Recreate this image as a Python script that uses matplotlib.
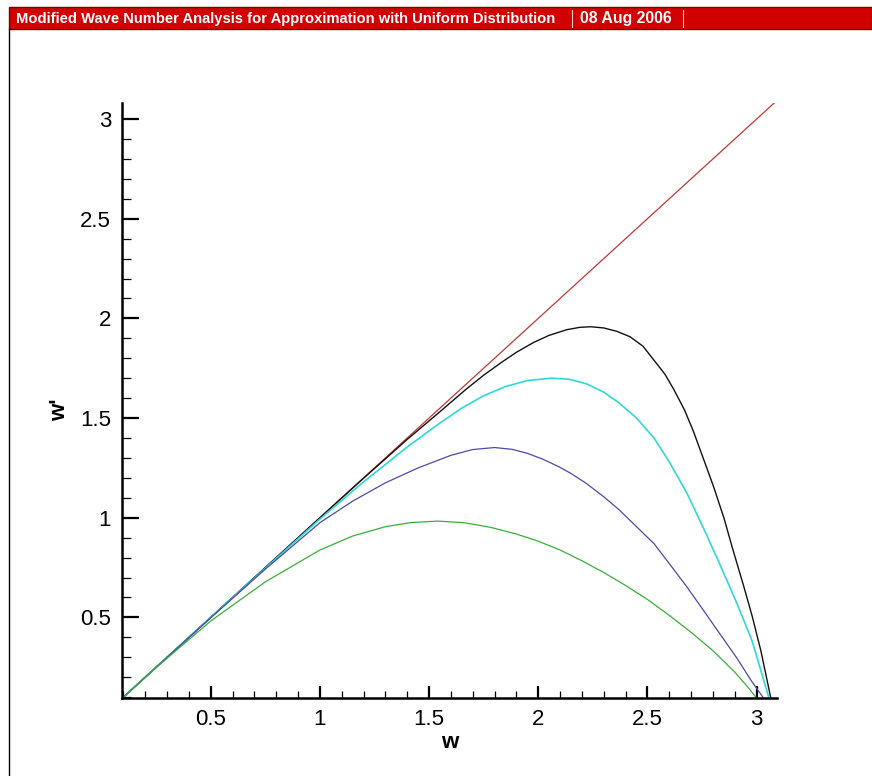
import matplotlib
matplotlib.use("Agg")
import matplotlib.pyplot as plt
from matplotlib.patches import Rectangle
from matplotlib.lines import Line2D
from matplotlib.ticker import MultipleLocator

# values
w_exact = [0.0, 3.1]
wp_exact = [0.0, 3.1]

w_green = [0.0, 0.25, 0.5, 0.75, 1.0, 1.15, 1.3, 1.42, 1.54, 1.66, 1.78, 1.9,
           2.0, 2.1, 2.2, 2.3, 2.4, 2.5, 2.6, 2.7, 2.8, 2.9, 2.96, 3.0]
wp_green = [0.0, 0.248, 0.482, 0.678, 0.838, 0.908, 0.955, 0.976, 0.983, 0.975,
            0.952, 0.918, 0.882, 0.838, 0.784, 0.725, 0.66, 0.59, 0.51, 0.425,
            0.333, 0.225, 0.15, 0.095]

w_blue = [0.0, 0.5, 0.75, 1.0, 1.15, 1.3, 1.45, 1.6, 1.70, 1.80, 1.88, 1.95,
          2.02, 2.09, 2.15, 2.22, 2.30, 2.37, 2.45, 2.53, 2.60, 2.68, 2.76,
          2.83, 2.91, 2.98, 3.035]
wp_blue = [0.0, 0.498, 0.742, 0.975, 1.083, 1.175, 1.25, 1.313, 1.342, 1.352,
           1.343, 1.323, 1.294, 1.258, 1.222, 1.172, 1.105, 1.04, 0.955, 0.87,
           0.77, 0.654, 0.53, 0.42, 0.295, 0.175, 0.09]

w_cyan = [0.0, 0.5, 1.0, 1.2, 1.4, 1.55, 1.65, 1.75, 1.85, 1.95, 2.06, 2.14,
          2.22, 2.30, 2.37, 2.45, 2.53, 2.60, 2.68, 2.76, 2.83, 2.91, 2.98,
          3.058]
wp_cyan = [0.0, 0.5, 0.993, 1.18, 1.355, 1.475, 1.55, 1.612, 1.658, 1.688,
           1.70, 1.695, 1.672, 1.63, 1.576, 1.50, 1.40, 1.28, 1.125, 0.94,
           0.77, 0.57, 0.38, 0.09]

w_black = [0.0, 0.5, 1.0, 1.2, 1.4, 1.55, 1.67, 1.75, 1.83, 1.9, 1.98, 2.05,
           2.13, 2.19, 2.24, 2.30, 2.36, 2.42, 2.48, 2.53, 2.58, 2.62, 2.67,
           2.71, 2.76, 2.80, 2.85, 2.89, 2.94, 2.98, 3.02, 3.066]
wp_black = [0.0, 0.5, 1.0, 1.198, 1.393, 1.532, 1.645, 1.715, 1.778, 1.83,
            1.88, 1.915, 1.943, 1.955, 1.958, 1.952, 1.935, 1.908, 1.86, 1.79,
            1.72, 1.645, 1.54, 1.435, 1.285, 1.165, 1.0, 0.845, 0.66, 0.505,
            0.33, 0.09]

x_major = [0.5, 1, 1.5, 2, 2.5, 3]
y_major = [0.5, 1, 1.5, 2, 2.5, 3]

title = "Modified Wave Number Analysis for Approximation with Uniform Distribution"
date = "08 Aug 2006"

W, H = 872, 776
fig = plt.figure(figsize=(W / 100, H / 100), dpi=100)
fig.patch.set_facecolor("white")

# title bar
fig.patches.append(Rectangle((9 / W, 1 - 29 / H), 1 - 9 / W, 22 / H,
                             transform=fig.transFigure, facecolor="#d20000",
                             edgecolor="#7a0000", linewidth=1.0))
bar_font = ["Liberation Sans", "DejaVu Sans"]
t_title = fig.text(16 / W, 1 - 18.5 / H, title, color="white",
                   fontweight="bold", fontsize=11, family=bar_font,
                   va="center", ha="left")
t_date = fig.text(580 / W, 1 - 18.5 / H, date, color="white",
                  fontweight="bold", fontsize=11, family=bar_font,
                  va="center", ha="left")
# squeeze the bar texts to the widths they take in the reference
fig.canvas.draw()
for txt, target in ((t_title, 541), (t_date, 92)):
    width = txt.get_window_extent().width
    txt.set_fontsize(11 * target / width)

for xs in (572, 683):
    fig.lines.append(Line2D([xs / W, xs / W], [1 - 27 / H, 1 - 10 / H],
                            transform=fig.transFigure, color="#ffd0d0", lw=0.8))
# frame line on the left
fig.lines.append(Line2D([9 / W, 9 / W], [0, 1 - 29 / H],
                        transform=fig.transFigure, color="black", lw=1.0))

ax = fig.add_axes([122.3 / W, (H - 697.7) / H, 654.4 / W, 595 / H])

ax.plot(w_exact, wp_exact, color="#c03838", lw=0.9)
ax.plot(w_black, wp_black, color="#111111", lw=1.0)
ax.plot(w_cyan, wp_cyan, color="#30d8d8", lw=1.2)
ax.plot(w_blue, wp_blue, color="#4a4aa8", lw=0.9)
ax.plot(w_green, wp_green, color="#3aae3a", lw=0.9)

ax.set_xlim(0.095, 3.092)
ax.set_ylim(0.097, 3.082)

for side in ("top", "right"):
    ax.spines[side].set_visible(False)
for side in ("left", "bottom"):
    ax.spines[side].set_linewidth(1.8)

ax.set_xticks(x_major)
ax.set_yticks(y_major)
ax.set_xticklabels([f"{v:g}" for v in x_major])
ax.set_yticklabels([f"{v:g}" for v in y_major])
ax.xaxis.set_minor_locator(MultipleLocator(0.1))
ax.yaxis.set_minor_locator(MultipleLocator(0.1))

tick_family = ["Liberation Sans", "DejaVu Sans"]
ax.tick_params(axis="x", which="major", direction="in", length=9, width=1.6,
               pad=8)
ax.tick_params(axis="x", which="minor", direction="in", length=5, width=0.9)
ax.tick_params(axis="y", which="major", direction="in", length=12, width=1.6,
               pad=8)
ax.tick_params(axis="y", which="minor", direction="in", length=6.5, width=0.9)
for lab in ax.get_xticklabels() + ax.get_yticklabels():
    lab.set_fontfamily(tick_family)
    lab.set_fontsize(16)

ax.set_xlabel("w", fontsize=16, fontweight="bold", family=tick_family)
ax.set_ylabel("w'", fontsize=16, fontweight="bold", family=tick_family)
ax.xaxis.set_label_coords(0.5, -0.0575)
ax.yaxis.set_label_coords(-0.08, 0.484)

fig.savefig("out.png", dpi=100)
